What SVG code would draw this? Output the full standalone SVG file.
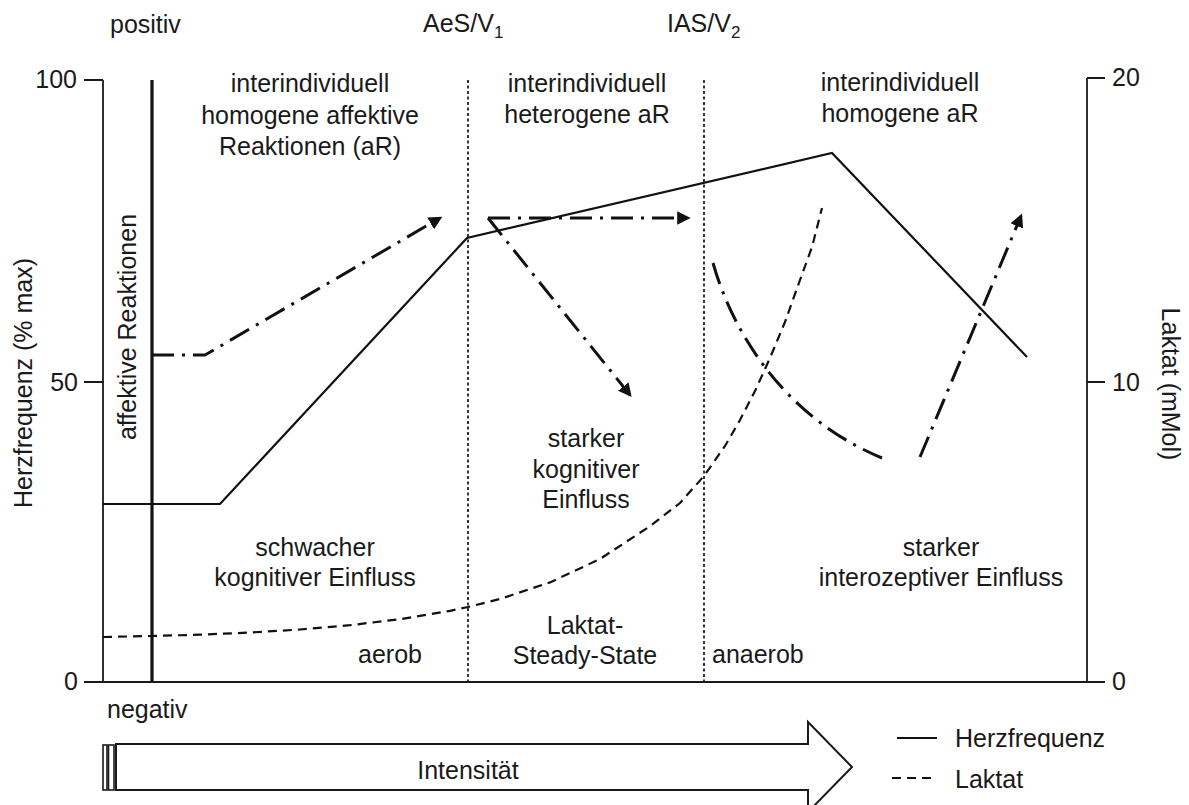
<svg xmlns="http://www.w3.org/2000/svg" width="1189" height="805" viewBox="0 0 1189 805">
<style>
text{font-family:"Liberation Sans",Arial,sans-serif;font-size:25px;fill:#1a1a1a}
.c{text-anchor:middle}
.e{text-anchor:end}
.ax{stroke:#1a1a1a;stroke-width:1.8;fill:none}
.dot{stroke:#222;stroke-width:1.8;stroke-dasharray:3 2.5;fill:none}
.hf{stroke:#111;stroke-width:2.2;fill:none;stroke-linejoin:miter}
.lk{stroke:#111;stroke-width:2.2;fill:none;stroke-dasharray:9 6}
.dd{stroke:#111;stroke-width:3;fill:none;stroke-dasharray:22 8 3 8}
</style>
<defs>
<marker id="ah" viewBox="0 0 10 10" refX="8" refY="5" markerWidth="4.5" markerHeight="4.5" orient="auto" markerUnits="strokeWidth">
<path d="M0,0 L10,5 L0,10 Z" fill="#111"/>
</marker>
</defs>
<rect width="1189" height="805" fill="#fff"/>

<g id="axes">
<path class="ax" d="M103,80 V682 H1087 V78"/>
<path class="ax" d="M84,80 H103 M84,382 H103 M84,682 H103 M1087,78 H1105 M1087,382 H1105 M1087,682 H1105"/>
<line x1="152" y1="80" x2="152" y2="682" stroke="#111" stroke-width="3.2"/>
<line class="dot" x1="468" y1="80" x2="468" y2="682"/>
<line class="dot" x1="704" y1="80" x2="704" y2="682"/>
</g>

<g id="axis-labels">
<text class="e" x="77" y="88">100</text>
<text class="e" x="78" y="391">50</text>
<text class="e" x="78" y="690">0</text>
<text x="1112" y="86">20</text>
<text x="1112" y="391">10</text>
<text x="1112" y="690">0</text>
<text class="c" transform="translate(32,383) rotate(-90)">Herzfrequenz (% max)</text>
<text class="c" transform="translate(1162,384) rotate(90)">Laktat (mMol)</text>
<text class="c" transform="translate(136,327) rotate(-90)">affektive Reaktionen</text>
<text x="110" y="33">positiv</text>
<text x="107" y="718">negativ</text>
<text x="423" y="32">AeS/V<tspan font-size="17" dy="6">1</tspan></text>
<text x="667" y="32">IAS/V<tspan font-size="17" dy="6">2</tspan></text>
</g>

<g id="region-texts">
<text class="c" x="310" y="92">interindividuell</text>
<text class="c" x="310" y="124">homogene affektive</text>
<text class="c" x="310" y="155">Reaktionen (aR)</text>
<text class="c" x="587" y="92">interindividuell</text>
<text class="c" x="587" y="123">heterogene aR</text>
<text class="c" x="900" y="91">interindividuell</text>
<text class="c" x="900" y="122">homogene aR</text>
<text class="c" x="586" y="447">starker</text>
<text class="c" x="586" y="478">kognitiver</text>
<text class="c" x="586" y="508">Einfluss</text>
<text class="c" x="315" y="556">schwacher</text>
<text class="c" x="315" y="586">kognitiver Einfluss</text>
<text class="c" x="941" y="556">starker</text>
<text class="c" x="941" y="586">interozeptiver Einfluss</text>
<text x="358" y="663">aerob</text>
<text class="c" x="585" y="634">Laktat-</text>
<text class="c" x="585" y="664">Steady-State</text>
<text x="712" y="663">anaerob</text>
</g>

<g id="connectors">
<path id="herzfrequenz" class="hf" d="M103,504 L220,504 L467,238 L832,153 L1027,357"/>
<path id="laktat" class="lk" d="M103,637 L150,636 L200,634.7 L250,632.5 L300,629.5 L350,625.2 L400,619.2 L450,610.8 L468,607 L500,599 L550,582.4 L600,559 L650,526.2 L680,503 L704,476 L725,446 L740,420 L755,391 L770,358 L785,322 L800,280 L812,247 L822,208"/>
<path id="ar1" class="dd" d="M152,355 L205,355 L440,218" marker-end="url(#ah)"/>
<path id="ar2" class="dd" d="M488,218 L688,218" marker-end="url(#ah)"/>
<path id="ar3" class="dd" d="M488,218 L630,395" marker-end="url(#ah)"/>
<path id="ar4" class="dd" d="M713,263 C735,340 790,420 882,458"/>
<path id="ar5" class="dd" d="M920,457 L1021,216" marker-end="url(#ah)"/>
</g>

<g id="intensitaet">
<rect x="103" y="745" width="4" height="45" fill="none" stroke="#1a1a1a" stroke-width="1.6"/>
<rect x="108.5" y="745" width="5.5" height="45" fill="none" stroke="#1a1a1a" stroke-width="1.6"/>
<path d="M116,744 H808 V722 L852,767 L808,812 V790 H116 Z" fill="none" stroke="#1a1a1a" stroke-width="2"/>
<text class="c" x="468" y="779">Intensität</text>
</g>

<g id="legend">
<line x1="897" y1="738" x2="937" y2="738" stroke="#111" stroke-width="2.2"/>
<text x="955" y="747">Herzfrequenz</text>
<line x1="892" y1="778" x2="937" y2="778" stroke="#111" stroke-width="2.2" stroke-dasharray="9 6"/>
<text x="955" y="788">Laktat</text>
</g>
</svg>
